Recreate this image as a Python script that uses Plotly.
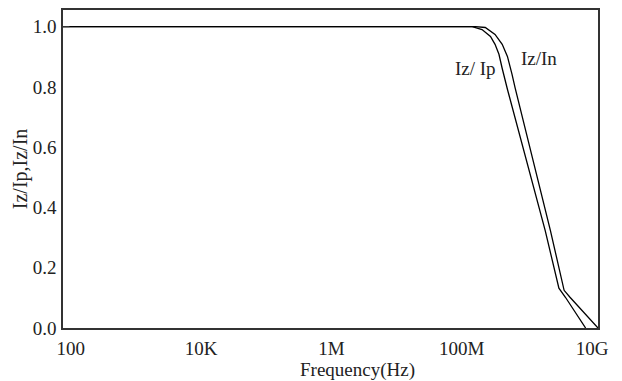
import plotly.graph_objects as go

# log10(frequency / Hz) and normalised current for each curve
ip_logf = [1.88, 8.0, 8.16, 8.31, 8.44, 8.51, 8.57, 8.62, 8.70, 9.28, 9.49, 9.59, 9.90]
ip_ratio = [1.0, 1.0, 1.0, 0.990, 0.967, 0.941, 0.908, 0.861, 0.792, 0.323, 0.132, 0.102, 0.0]

in_logf = [1.88, 8.05, 8.21, 8.36, 8.51, 8.62, 8.70, 8.77, 8.82, 9.36, 9.57, 9.66, 10.09]
in_ratio = [1.0, 1.0, 1.0, 0.997, 0.974, 0.941, 0.901, 0.842, 0.795, 0.323, 0.125, 0.102, 0.0]

x_tick_vals = [1e2, 1e4, 1e6, 1e8, 1e10]
x_tick_text = ["100", "10K", "1M", "100M", "10G"]
y_tick_vals = [0.0, 0.2, 0.4, 0.6, 0.8, 1.0]
y_tick_text = ["0.0", "0.2", "0.4", "0.6", "0.8", "1.0"]

SERIF = "Liberation Serif, Times New Roman, serif"
INK = "#222"

fig = go.Figure()
for logf, ratio, name in [(ip_logf, ip_ratio, "Iz/Ip"), (in_logf, in_ratio, "Iz/In")]:
    fig.add_trace(go.Scatter(
        x=[10 ** v for v in logf], y=ratio, mode="lines", name=name,
        line=dict(color="black", width=1.3),
        showlegend=False, hoverinfo="skip",
    ))

# curve labels
fig.add_annotation(x=8.21, y=0.86, xref="x", yref="y", text="Iz/ Ip",
                   showarrow=False, font=dict(family=SERIF, size=19, color=INK))
fig.add_annotation(x=9.19, y=0.895, xref="x", yref="y", text="Iz/In",
                   showarrow=False, font=dict(family=SERIF, size=19, color=INK))

# axis titles
fig.add_annotation(x=0.551, y=-0.132, xref="paper", yref="paper", text="Frequency(Hz)",
                   xanchor="center", yanchor="middle",
                   showarrow=False, font=dict(family=SERIF, size=19, color=INK))
fig.add_annotation(x=-0.080, y=0.50, xref="paper", yref="paper", text="Iz/Ip,Iz/In",
                   xanchor="center", yanchor="middle", textangle=-90,
                   showarrow=False, font=dict(family=SERIF, size=20, color=INK))

# short inward tick at the top of the value axis
fig.add_shape(type="line", xref="paper", yref="y", x0=0, x1=0.012, y0=1.0, y1=1.0,
              line=dict(color="#333", width=1.2))

fig.update_layout(
    width=622, height=381,
    margin=dict(l=63, r=24, t=8, b=53),
    paper_bgcolor="white", plot_bgcolor="white",
    font=dict(family=SERIF, size=19, color=INK),
    xaxis=dict(
        type="log", range=[1.88, 10.09],
        tickvals=x_tick_vals, ticktext=x_tick_text, ticks="",
        ticklabelstandoff=2,
        showgrid=False, zeroline=False,
        showline=True, mirror=True, linecolor="#333", linewidth=1.5,
    ),
    yaxis=dict(
        range=[0, 1.055],
        tickvals=y_tick_vals, ticktext=y_tick_text, ticks="",
        ticklabelstandoff=1,
        showgrid=False, zeroline=False,
        showline=True, mirror=True, linecolor="#333", linewidth=1.5,
    ),
)

fig.write_html("out.html")
